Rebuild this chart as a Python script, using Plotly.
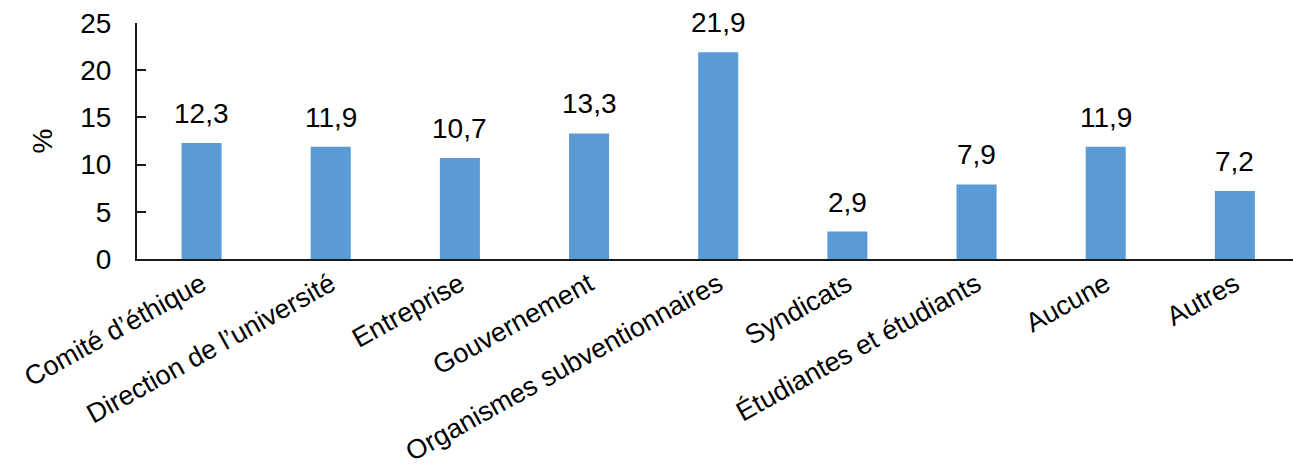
import plotly.graph_objects as go

# Share of respondents by body (%)
categories = [
    "Comité d’éthique",
    "Direction de l’université",
    "Entreprise",
    "Gouvernement",
    "Organismes subventionnaires",
    "Syndicats",
    "Étudiantes et étudiants",
    "Aucune",
    "Autres",
]
values = [12.3, 11.9, 10.7, 13.3, 21.9, 2.9, 7.9, 11.9, 7.2]
y_ticks = [0, 5, 10, 15, 20, 25]

FONT = "Liberation Sans, Arial, sans-serif"
FONT_SIZE = 28
CAT_FONT_SIZE = 27
BAR_COLOR = "#5B9BD5"
AXIS_COLOR = "#1a1a1a"


def fr_number(v):
    return f"{v:.1f}".replace(".", ",")


fig = go.Figure()
fig.add_trace(
    go.Bar(
        x=categories,
        y=values,
        width=0.31,
        marker=dict(color=BAR_COLOR, line=dict(width=0)),
        hoverinfo="x+y",
    )
)

# value labels above each bar
for cat, v in zip(categories, values):
    fig.add_annotation(
        x=cat,
        y=v,
        text=fr_number(v),
        showarrow=False,
        yanchor="bottom",
        yshift=12,
        font=dict(family=FONT, size=FONT_SIZE, color="#000000"),
    )

fig.update_layout(
    width=1293,
    height=470,
    margin=dict(l=137, r=0, t=23, b=211),
    paper_bgcolor="white",
    plot_bgcolor="white",
    showlegend=False,
    font=dict(family=FONT, size=FONT_SIZE, color="#000000"),
)

fig.update_xaxes(
    type="category",
    range=[-0.5, 8.45],
    automargin=False,
    showline=True,
    linecolor=AXIS_COLOR,
    linewidth=2,
    ticks="",
    tickangle=-29,
    tickfont=dict(family=FONT, size=CAT_FONT_SIZE, color="#000000"),
    ticklabelstandoff=-3,
    showgrid=False,
    zeroline=False,
    fixedrange=True,
)

fig.update_yaxes(
    range=[0, 25],
    automargin=False,
    tickvals=y_ticks,
    showline=True,
    linecolor=AXIS_COLOR,
    linewidth=2,
    ticks="inside",
    ticklen=9,
    tickwidth=2,
    tickcolor=AXIS_COLOR,
    tickfont=dict(family=FONT, size=FONT_SIZE, color="#000000"),
    ticklabelstandoff=18,
    showgrid=False,
    zeroline=False,
    title=dict(text="%", font=dict(family=FONT, size=FONT_SIZE, color="#000000"), standoff=19),
    fixedrange=True,
)

fig.write_html("out.html")
